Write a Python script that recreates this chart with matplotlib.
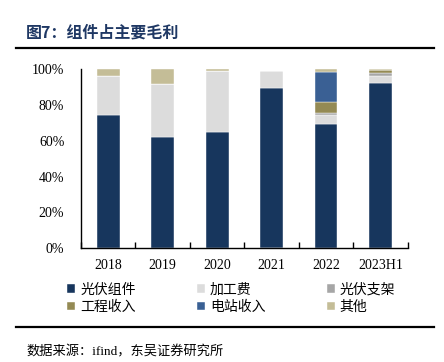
import numpy as np
import matplotlib
matplotlib.use("Agg")
import matplotlib.pyplot as plt
from matplotlib.ticker import FixedLocator, FuncFormatter

categories = ["2018", "2019", "2020", "2021", "2022", "2023H1"]
series_names = ["光伏组件", "加工费", "光伏支架", "工程收入", "电站收入", "其他"]
modules = [74.3, 62.2, 65.0, 89.4, 69.3, 92.3]
processing = [21.6, 29.6, 34.0, 9.6, 5.0, 4.0]
brackets = [0.0, 0.0, 0.0, 0.0, 1.0, 1.7]
engineering = [0.0, 0.0, 0.0, -0.8, 6.5, 1.5]
power_station = [0.0, 0.0, 0.0, 0.0, 16.8, 0.0]
others = [4.1, 8.2, 1.0, 0.0, 1.4, 0.5]
yticks = [0, 20, 40, 60, 80, 100]

colors = ["#17365D", "#DCDCDC", "#A6A6A6", "#948A54", "#3A6094", "#C4BD97"]
series = [modules, processing, brackets, engineering, power_station, others]

serif = ["Liberation Serif", "Noto Sans CJK SC"]
cjk = ["Noto Sans CJK SC", "DejaVu Sans"]

fig = plt.figure(figsize=(4.44, 3.62), dpi=100)
W, H = 444, 362
ax = fig.add_axes([81 / W, 1 - 248.3 / H, (407.7 - 81) / W, (248.3 - 69) / H])

x = np.arange(len(categories))
pos_bottom = np.zeros(len(categories))
neg_bottom = np.zeros(len(categories))
handles = []
for name, vals, c in zip(series_names, series, colors):
    v = np.array(vals, dtype=float)
    bottom = np.where(v >= 0, pos_bottom, neg_bottom)
    b = ax.bar(x, v, width=0.42, bottom=bottom, color=c, label=name,
               edgecolor="white", linewidth=0.3)
    handles.append(b)
    pos_bottom += np.where(v >= 0, v, 0)
    neg_bottom += np.where(v < 0, v, 0)

ax.set_xlim(-0.5, len(categories) - 0.5)
ax.set_ylim(0, 100)
ax.spines["top"].set_visible(False)
ax.spines["right"].set_visible(False)
ax.spines["left"].set_linewidth(1.0)
ax.spines["bottom"].set_linewidth(1.0)

ax.yaxis.set_major_locator(FixedLocator(yticks))
ax.yaxis.set_major_formatter(FuncFormatter(lambda v, p: f"{int(v)}%"))
ax.tick_params(axis="y", length=0, pad=12)
for lab in ax.get_yticklabels():
    lab.set_fontfamily(serif)
    lab.set_fontsize(10)

ax.set_xticks(x)
ax.set_xticklabels(categories, fontfamily=serif, fontsize=10)
ax.tick_params(axis="x", which="major", length=0, pad=8)
ax.set_xticks(np.arange(-0.5, len(categories)), minor=True)
ax.tick_params(axis="x", which="minor", direction="in", length=4, width=1.0)

# legend: order for column-wise fill with 2 rows
order = [0, 3, 1, 4, 2, 5]
leg = fig.legend([handles[i] for i in order], [series_names[i] for i in order],
                 ncol=3, loc="upper left", bbox_to_anchor=(67 / W, 1 - 282.5 / H),
                 frameon=False, prop={"family": cjk, "size": 10},
                 handlelength=0.6, handleheight=0.6, handletextpad=0.35,
                 columnspacing=4.4, labelspacing=0.25, borderpad=0, borderaxespad=0)

# title, rules, source
fig.text(26 / W, 1 - 33 / H, "图7：组件占主要毛利", fontfamily=cjk, fontsize=11.5,
         fontweight="bold", color="#1F3864", va="center", ha="left")
fig.add_artist(plt.Line2D([16 / W, 434 / W], [1 - 48 / H, 1 - 48 / H],
                          color="black", linewidth=1.6))
fig.add_artist(plt.Line2D([16 / W, 434 / W], [1 - 326.7 / H, 1 - 326.7 / H],
                          color="black", linewidth=1.6))
fig.text(26 / W, 1 - 352 / H, "数据来源：ifind，东吴证券研究所", fontfamily=serif,
         fontsize=9.5, va="center", ha="left", color="black")

fig.savefig("out.png", dpi=100)
